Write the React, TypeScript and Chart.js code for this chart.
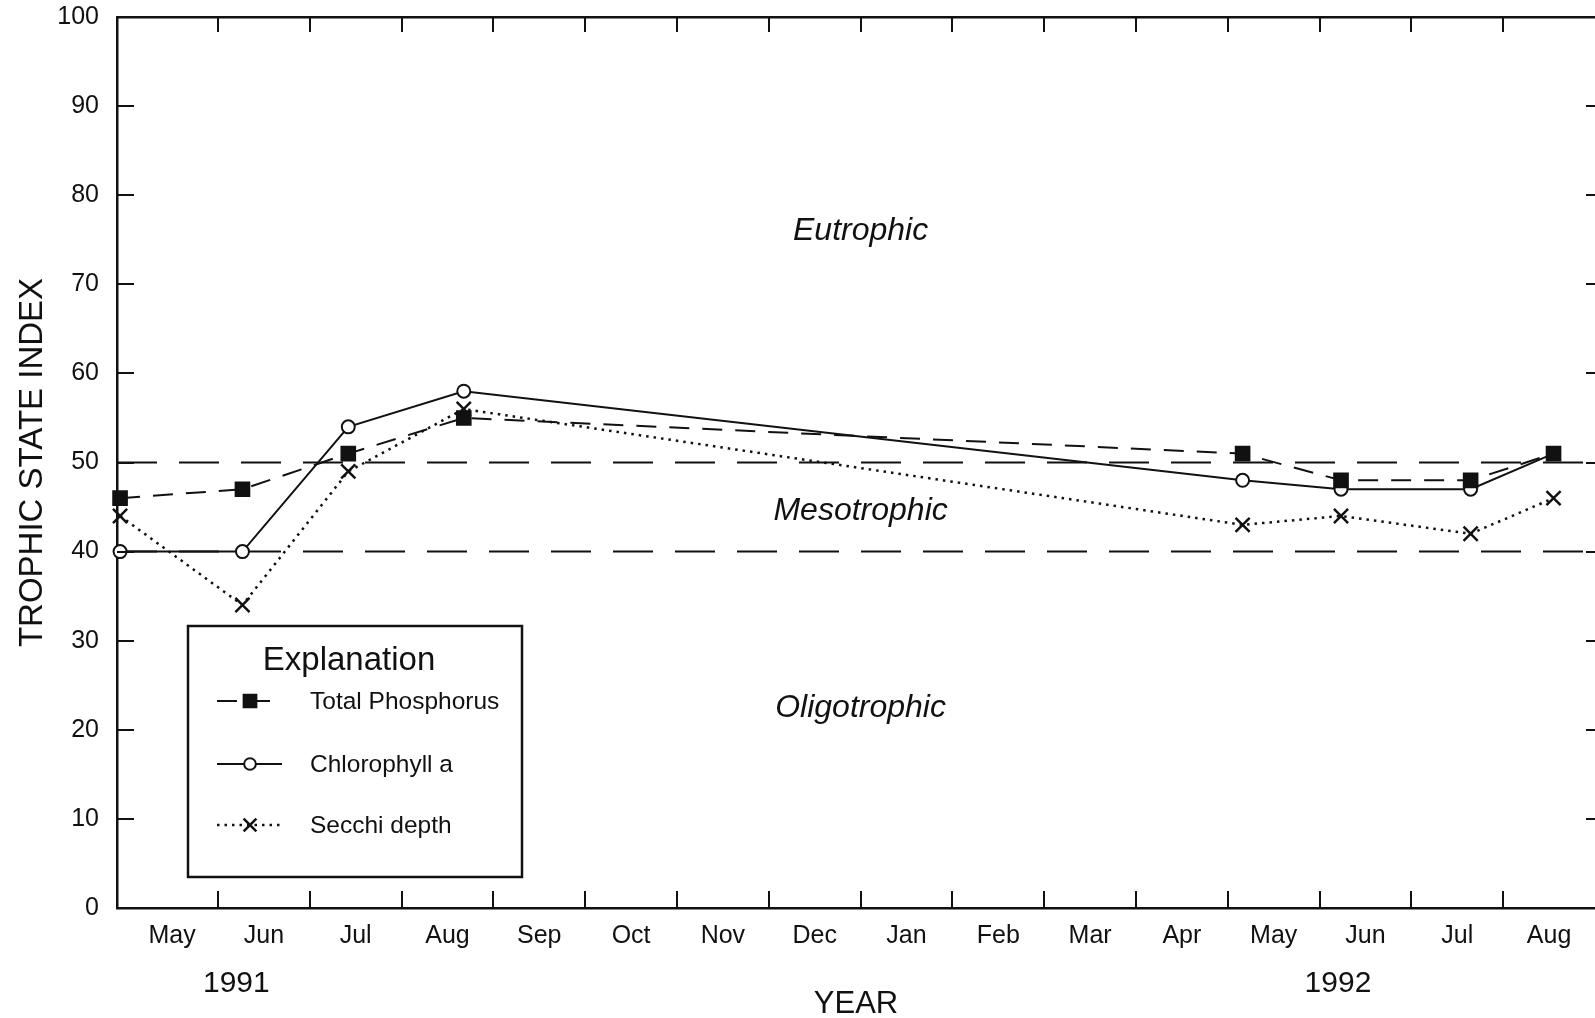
import { useEffect, useRef } from "react";
import { Chart, registerables } from "chart.js";
import { drawPoint } from "chart.js/helpers";

Chart.register(...registerables);

// ---- data -------------------------------------------------------------
const monthLabels = ["May", "Jun", "Jul", "Aug", "Sep", "Oct", "Nov", "Dec", "Jan", "Feb", "Mar", "Apr", "May", "Jun", "Jul", "Aug"];
const axisStartDate = "1991-04-28";
const axisEndDate = "1992-09-01";
const sampleDates = ["1991-04-29", "1991-06-09", "1991-07-14", "1991-08-22", "1992-05-06", "1992-06-08", "1992-07-21", "1992-08-18"];
const totalPhosphorus = [46, 47, 51, 55, 51, 48, 48, 51];
const chlorophyllA = [40, 40, 54, 58, 48, 47, 47, 51];
const secchiDepth = [44, 34, 49, 56, 43, 44, 42, 46];
const seriesNames = ["Total Phosphorus", "Chlorophyll a", "Secchi depth"];
const classBoundaries = [50, 40];
const trophicLabels = ["Eutrophic", "Mesotrophic", "Oligotrophic"];
const trophicLabelValues = [76, 44.6, 22.4];
const yearLabels = ["1991", "1992"];
const yearLabelMonths = [1.2, 13.2];

const INK = "#111";
const FONT = "'Liberation Sans', Arial, sans-serif";

// months elapsed since 1 May 1991, with the day as a fraction of its month
function monthIndex(date: string): number {
  const [y, m, d] = date.split("-").map(Number);
  const days = new Date(y, m, 0).getDate();
  return (y - 1991) * 12 + (m - 5) + (d - 1) / days;
}

const X_MIN = monthIndex(axisStartDate);
const X_MAX = monthIndex(axisEndDate);
const sampleX = sampleDates.map(monthIndex);
const toPoints = (values: number[]) => values.map((v, i) => ({ x: sampleX[i], y: v }));

// inward ticks, class names, year captions and the "Explanation" box
const decorations = {
  id: "decorations",
  afterDraw(chart: any) {
    const { ctx, chartArea: a } = chart;
    const x = chart.scales.x;
    const y = chart.scales.y;
    ctx.save();
    ctx.strokeStyle = INK;
    ctx.fillStyle = INK;
    ctx.lineWidth = 2;
    ctx.setLineDash([]);
    const seg = (x1: number, y1: number, x2: number, y2: number) => {
      ctx.beginPath();
      ctx.moveTo(x1, y1);
      ctx.lineTo(x2, y2);
      ctx.stroke();
    };
    for (let m = 1; m < monthLabels.length; m++) {
      const px = Math.round(x.getPixelForValue(m));
      seg(px, a.bottom, px, a.bottom - 17);
      seg(px, a.top, px, a.top + 15);
    }
    for (const t of y.ticks) {
      if (t.value <= y.min || t.value >= y.max) continue;
      const py = Math.round(y.getPixelForValue(t.value));
      seg(a.left, py, a.left + 17, py);
      seg(a.right, py, a.right - 9, py);
    }

    ctx.textAlign = "center";
    ctx.textBaseline = "middle";
    ctx.font = `italic 32px ${FONT}`;
    trophicLabels.forEach((label, i) => {
      ctx.fillText(label, x.getPixelForValue(8), y.getPixelForValue(trophicLabelValues[i]));
    });

    ctx.font = `30px ${FONT}`;
    yearLabels.forEach((label, i) => {
      ctx.fillText(label, x.getPixelForValue(yearLabelMonths[i]), a.bottom + 76);
    });

    // legend box
    const bx = 188, by = 626, bw = 334, bh = 251;
    ctx.fillStyle = "#fff";
    ctx.fillRect(bx, by, bw, bh);
    ctx.fillStyle = INK;
    ctx.lineWidth = 2.5;
    ctx.strokeRect(bx, by, bw, bh);
    ctx.font = `33px ${FONT}`;
    ctx.fillText("Explanation", bx + 161, by + 35);
    ctx.textAlign = "left";
    ctx.font = `24.5px ${FONT}`;
    const rows = [701, 764, 825];
    chart.data.datasets.slice(0, seriesNames.length).forEach((ds: any, i: number) => {
      const ry = rows[i];
      ctx.lineWidth = ds.borderWidth;
      ctx.setLineDash(ds.borderDash || []);
      seg(217, ry, 282, ry);
      ctx.setLineDash([]);
      ctx.fillStyle = ds.pointBackgroundColor;
      ctx.strokeStyle = INK;
      drawPoint(ctx, { pointStyle: ds.pointStyle, radius: ds.pointRadius * 0.9, borderWidth: ds.pointBorderWidth, rotation: 0 }, 250, ry);
      ctx.fillStyle = INK;
      ctx.fillText(ds.label, 310, ry + 1);
    });
    ctx.restore();
  },
};

export default function App() {
  const canvasRef = useRef<HTMLCanvasElement | null>(null);

  useEffect(() => {
    if (!canvasRef.current) return;
    Chart.defaults.font.family = FONT;
    Chart.defaults.color = INK;

    const seriesValues = [totalPhosphorus, chlorophyllA, secchiDepth];
    const styles = [
      { pointStyle: "rect", pointRadius: 10, pointBackgroundColor: INK, pointBorderWidth: 1.5, borderWidth: 2, borderDash: [20, 13] },
      { pointStyle: "circle", pointRadius: 6.5, pointBackgroundColor: "#fff", pointBorderWidth: 2, borderWidth: 2, borderDash: [] },
      { pointStyle: "crossRot", pointRadius: 10, pointBackgroundColor: INK, pointBorderWidth: 2.5, borderWidth: 2.5, borderDash: [2.5, 5] },
    ];

    const series = seriesNames.map((name, i) => ({
      label: name,
      data: toPoints(seriesValues[i]),
      borderColor: INK,
      pointBorderColor: INK,
      tension: 0,
      clip: false as const,
      ...styles[i],
    }));

    const boundaries = classBoundaries.map((v) => ({
      label: `boundary ${v}`,
      data: [{ x: X_MIN, y: v }, { x: X_MAX, y: v }],
      borderColor: INK,
      borderWidth: 2,
      borderDash: [40, 22],
      pointRadius: 0,
      tension: 0,
    }));

    const chart = new Chart(canvasRef.current, {
      type: "line",
      data: { datasets: [...series, ...boundaries] as any },
      options: {
        responsive: false,
        animation: false,
        events: [],
        layout: { padding: 0, autoPadding: false },
        plugins: { legend: { display: false }, tooltip: { enabled: false } },
        scales: {
          x: {
            type: "linear",
            position: "bottom",
            min: X_MIN,
            max: X_MAX,
            afterBuildTicks: (s: any) => {
              s.ticks = monthLabels.map((_, i) => ({ value: i + 0.5 }));
            },
            afterFit: (s: any) => {
              s.height = 110;
              s.paddingLeft = 0;
              s.paddingRight = 0;
            },
            ticks: {
              autoSkip: false,
              maxRotation: 0,
              padding: 13,
              font: { size: 25 },
              callback: (_v: any, i: number) => monthLabels[i],
            },
            grid: { display: false, drawTicks: false },
            border: { display: true, width: 2.5, color: INK },
            title: { display: true, text: "YEAR", font: { size: 31, lineHeight: 1.1 }, padding: { top: 0, bottom: -4 } },
          },
          xTop: {
            type: "linear",
            position: "top",
            min: X_MIN,
            max: X_MAX,
            afterFit: (s: any) => {
              s.height = 17;
              s.paddingLeft = 0;
              s.paddingRight = 0;
            },
            ticks: { display: false },
            grid: { display: false, drawTicks: false },
            border: { display: true, width: 2.5, color: INK },
          },
          y: {
            type: "linear",
            position: "left",
            min: 0,
            max: 100,
            afterFit: (s: any) => {
              s.width = 117;
              s.paddingTop = 0;
              s.paddingBottom = 0;
            },
            ticks: { stepSize: 10, padding: 18, font: { size: 25 } },
            grid: { display: false, drawTicks: false },
            border: { display: true, width: 2.5, color: INK },
            title: { display: true, text: "TROPHIC STATE INDEX", font: { size: 33 }, padding: { top: 13, bottom: 0 } },
          },
        },
      } as any,
      plugins: [decorations],
    });

    return () => chart.destroy();
  }, []);

  return (
    <div style={{ position: "fixed", left: 0, top: 0, width: 1595, height: 1018, background: "#fff" }}>
      <canvas ref={canvasRef} width={1595} height={1018} />
    </div>
  );
}
